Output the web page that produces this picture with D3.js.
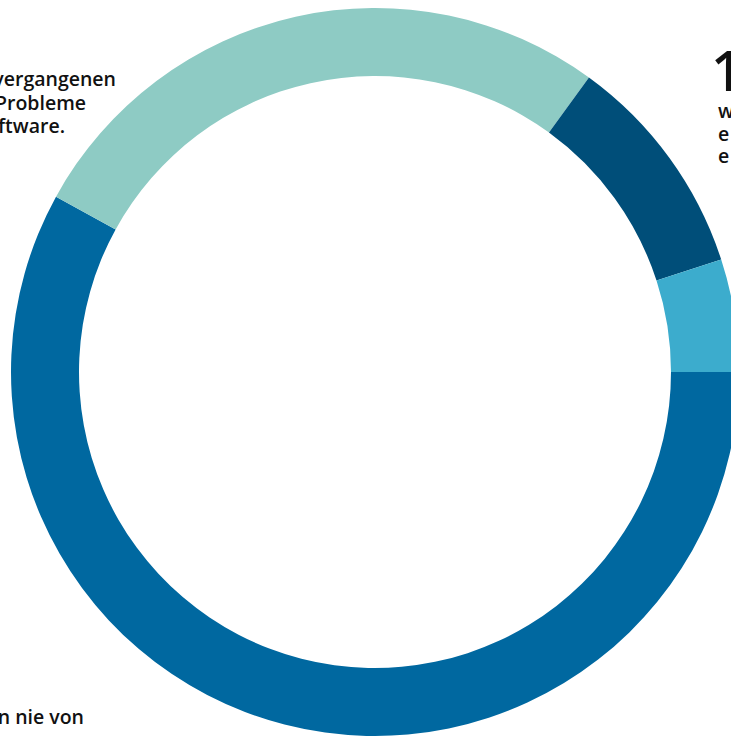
<!DOCTYPE html>
<html>
<head>
<meta charset="utf-8">
<script src="https://cdn.jsdelivr.net/npm/d3@7"></script>
<style>
  html, body { margin: 0; padding: 0; background: #ffffff; overflow: hidden; }
  svg { display: block; }
  text { font-family: "Open Sans", "Noto Sans", sans-serif; font-weight: 600; fill: #111; }
</style>
</head>
<body>
<svg id="chart" width="731" height="737"></svg>
<script>
// Data
const categories = ["Anteil A", "Anteil B", "Anteil C", "Anteil D"];
const values = [58, 27, 10, 5];
const colors = ["#0068a0", "#8ecbc4", "#004e79", "#3caccd"];

// Text fragments visible in the (cropped) graphic
const leftLines = ["vergangenen", "Probleme", "Software."];
const bottomLines = ["n nie von"];
const bigNumber = ["1"];
const rightLines = ["w", "e", "e"];

const W = 731, H = 737;
const cx = 375, cy = 372, rOuter = 364, rInner = 296;

const svg = d3.select("#chart");

const pie = d3.pie()
  .sort(null)
  .value(d => d)
  .startAngle(Math.PI / 2)
  .endAngle(Math.PI / 2 + 2 * Math.PI);

const arc = d3.arc().innerRadius(rInner).outerRadius(rOuter);

const color = d3.scaleOrdinal().domain(categories).range(colors);

svg.append("g")
  .attr("transform", `translate(${cx},${cy})`)
  .selectAll("path")
  .data(pie(values))
  .join("path")
  .attr("d", arc)
  .attr("fill", (d, i) => color(categories[i]));

// Left text block (right edges of each line)
const leftEnds = [116, 86, 65];
svg.append("g").selectAll("text")
  .data(leftLines)
  .join("text")
  .attr("x", (d, i) => leftEnds[i])
  .attr("y", (d, i) => 86 + i * 23.5)
  .attr("text-anchor", "end")
  .attr("font-size", 19.5)
  .text(d => d);

// Bottom-left text
svg.append("g").selectAll("text")
  .data(bottomLines)
  .join("text")
  .attr("x", 84)
  .attr("y", 724)
  .attr("text-anchor", "end")
  .attr("font-size", 19.5)
  .text(d => d);

// Right side big number and lines
svg.append("text")
  .attr("x", 711)
  .attr("y", 91)
  .attr("font-size", 56)
  .text(bigNumber[0]);

svg.append("g").selectAll("text")
  .data(rightLines)
  .join("text")
  .attr("x", 718)
  .attr("y", (d, i) => 118 + i * 22.5)
  .attr("font-size", 19.5)
  .text(d => d);
</script>
</body>
</html>
